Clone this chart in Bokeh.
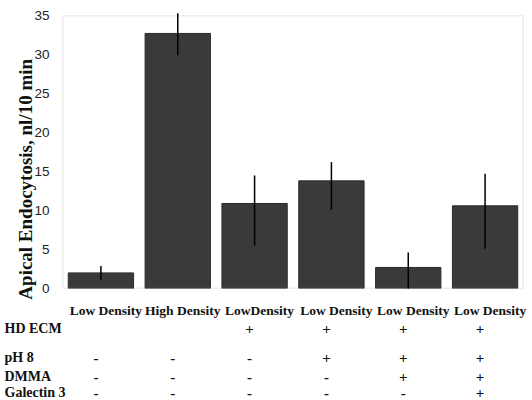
import math
from bokeh.plotting import figure
from bokeh.models import ColumnDataSource, FactorRange, Range1d, FixedTicker, BoxAnnotation
from bokeh.core.properties import value
from bokeh.embed import file_html
from bokeh.resources import INLINE

# ---- data ----
conditions = ["Low Density", "High Density", "LowDensity", "Low Density", "Low Density", "Low Density"]
endocytosis = [2.0, 32.7, 10.9, 13.8, 2.7, 10.6]
err_low = [1.1, 29.9, 5.5, 10.1, 0.0, 5.1]
err_high = [2.9, 35.3, 14.5, 16.2, 4.6, 14.7]
y_ticks = [0, 5, 10, 15, 20, 25, 30, 35]
row_names = ["HD ECM", "pH 8", "DMMA", "Galectin 3"]
hd_ecm = ["", "", "+", "+", "+", "+"]
ph8 = ["-", "-", "-", "+", "+", "+"]
dmma = ["-", "-", "-", "-", "+", "+"]
galectin3 = ["-", "-", "-", "-", "-", "+"]
y_label = "Apical Endocytosis, nl/10 min"

# ---- layout ----
W, H = 532, 400
LEFT, RIGHT, TOP, BOTTOM = 62, 9, 15, 112
frame_w = W - LEFT - RIGHT
SERIF = value("Liberation Serif")
TXT = "#111111"

factors = [f"g{i + 1}" for i in range(len(conditions))]
src = ColumnDataSource(dict(x=factors, top=endocytosis, lo=err_low, hi=err_high))

p = figure(width=W, height=H, x_range=FactorRange(*factors), y_range=Range1d(0, 35),
           output_backend="svg", toolbar_location=None,
           min_border_left=LEFT, min_border_right=RIGHT, min_border_top=TOP, min_border_bottom=BOTTOM)
p.background_fill_color = "white"
p.border_fill_color = "white"
p.outline_line_color = None
p.grid.visible = False

p.vbar(x="x", top="top", width=0.85, source=src, fill_color="#3a3a3a", line_color="#2a2a2a")
p.segment(x0="x", y0="lo", x1="x", y1="hi", source=src, line_color="black", line_width=1.5, level="overlay")
p.add_layout(BoxAnnotation(fill_color=None, line_color="#8a8a8a", line_width=1.5))

# axes
p.xaxis.visible = False
p.yaxis.ticker = FixedTicker(ticks=y_ticks)
p.yaxis.axis_line_color = None
p.yaxis.major_tick_line_color = None
p.yaxis.minor_tick_line_color = None
p.yaxis.major_label_standoff = 7
p.yaxis.major_label_text_font = "Liberation Sans"
p.yaxis.major_label_text_font_size = "13.5px"
p.yaxis.major_label_text_color = "#222222"

first_center = frame_w / (2 * len(factors))

# y-axis title
p.text(x=[factors[0]], y=[14], text=[y_label], x_offset=25 - LEFT - first_center, angle=math.pi / 2,
       text_align="center", text_baseline="middle", text_font=SERIF, text_font_style="bold",
       text_font_size="19px", text_color=TXT, level="overlay")

# condition labels under the bars
p.text(x=factors, y=[0] * len(factors), text=conditions, x_offset=5, y_offset=22,
       text_align="center", text_baseline="middle", text_font=SERIF, text_font_style="bold",
       text_font_size="13.5px", text_color=TXT, level="overlay")

# condition table below the chart
row_offsets = [40, 69, 88, 104]
for name, marks, off in zip(row_names, [hd_ecm, ph8, dmma, galectin3], row_offsets):
    p.text(x=factors, y=[0] * len(factors), text=marks, x_offset=-5, y_offset=off,
           text_align="center", text_baseline="middle", text_font=SERIF, text_font_style="bold",
           text_font_size="15px", text_color=TXT, level="overlay")
    p.text(x=[factors[0]], y=[0], text=[name], x_offset=4 - LEFT - first_center, y_offset=off,
           text_align="left", text_baseline="middle", text_font=SERIF, text_font_style="bold",
           text_font_size="14px", text_color=TXT, level="overlay")

open("out.html", "w").write(file_html(p, INLINE))
